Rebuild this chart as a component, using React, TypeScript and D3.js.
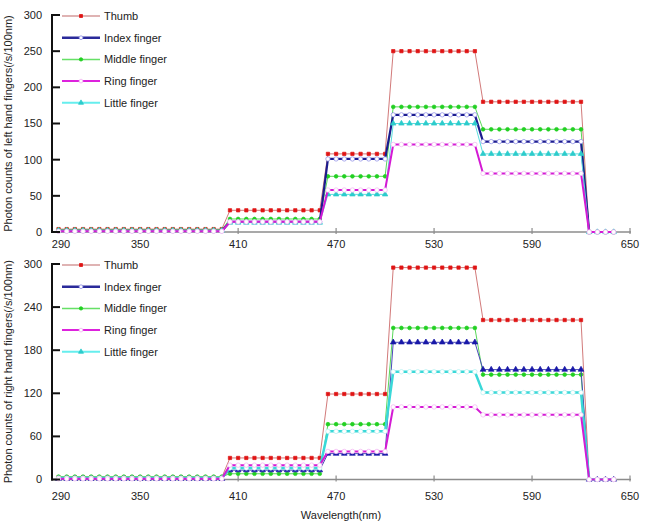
import React from 'react';
import * as d3 from 'd3';

const wavelengths = [
  300, 305, 310, 315, 320, 325, 330, 335, 340, 345, 350, 355, 360, 365, 370, 375, 380, 385, 390, 395, 400,
  405, 410, 415, 420, 425, 430, 435, 440, 445, 450, 455, 460,
  465, 470, 475, 480, 485, 490, 495, 500,
  505, 510, 515, 520, 525, 530, 535, 540, 545, 550, 555,
  560, 565, 570, 575, 580, 585, 590, 595, 600, 605, 610, 615, 620,
  625, 630, 635, 640,
];

const seriesNames = ['Thumb', 'Index finger', 'Middle finger', 'Ring finger', 'Little finger'];

// Left hand
const leftThumb = [
  4, 4, 4, 4, 4, 4, 4, 4, 4, 4, 4, 4, 4, 4, 4, 4, 4, 4, 4, 4, 4,
  30, 30, 30, 30, 30, 30, 30, 30, 30, 30, 30, 30,
  108, 108, 108, 108, 108, 108, 108, 108,
  250, 250, 250, 250, 250, 250, 250, 250, 250, 250, 250,
  180, 180, 180, 180, 180, 180, 180, 180, 180, 180, 180, 180, 180,
  0, 0, 0, 0,
];
const leftIndex = [
  1.5, 1.5, 1.5, 1.5, 1.5, 1.5, 1.5, 1.5, 1.5, 1.5, 1.5, 1.5, 1.5, 1.5, 1.5, 1.5, 1.5, 1.5, 1.5, 1.5, 1.5,
  14, 14, 14, 14, 14, 14, 14, 14, 14, 14, 14, 14,
  101, 101, 101, 101, 101, 101, 101, 101,
  162, 162, 162, 162, 162, 162, 162, 162, 162, 162, 162,
  125, 125, 125, 125, 125, 125, 125, 125, 125, 125, 125, 125, 125,
  0, 0, 0, 0,
];
const leftMiddle = [
  3, 3, 3, 3, 3, 3, 3, 3, 3, 3, 3, 3, 3, 3, 3, 3, 3, 3, 3, 3, 3,
  18, 18, 18, 18, 18, 18, 18, 18, 18, 18, 18, 18,
  77, 77, 77, 77, 77, 77, 77, 77,
  173, 173, 173, 173, 173, 173, 173, 173, 173, 173, 173,
  142, 142, 142, 142, 142, 142, 142, 142, 142, 142, 142, 142, 142,
  0, 0, 0, 0,
];
const leftRing = [
  1, 1, 1, 1, 1, 1, 1, 1, 1, 1, 1, 1, 1, 1, 1, 1, 1, 1, 1, 1, 1,
  14, 14, 14, 14, 14, 14, 14, 14, 14, 14, 14, 14,
  58, 58, 58, 58, 58, 58, 58, 58,
  121, 121, 121, 121, 121, 121, 121, 121, 121, 121, 121,
  81, 81, 81, 81, 81, 81, 81, 81, 81, 81, 81, 81, 81,
  0, 0, 0, 0,
];
const leftLittle = [
  2, 2, 2, 2, 2, 2, 2, 2, 2, 2, 2, 2, 2, 2, 2, 2, 2, 2, 2, 2, 2,
  13, 13, 13, 13, 13, 13, 13, 13, 13, 13, 13, 13,
  52, 52, 52, 52, 52, 52, 52, 52,
  150, 150, 150, 150, 150, 150, 150, 150, 150, 150, 150,
  108, 108, 108, 108, 108, 108, 108, 108, 108, 108, 108, 108, 108,
  0, 0, 0, 0,
];

// Right hand
const rightThumb = [
  3, 3, 3, 3, 3, 3, 3, 3, 3, 3, 3, 3, 3, 3, 3, 3, 3, 3, 3, 3, 3,
  30, 30, 30, 30, 30, 30, 30, 30, 30, 30, 30, 30,
  119, 119, 119, 119, 119, 119, 119, 119,
  295, 295, 295, 295, 295, 295, 295, 295, 295, 295, 295,
  222, 222, 222, 222, 222, 222, 222, 222, 222, 222, 222, 222, 222,
  0, 0, 0, 0,
];
const rightIndex = [
  1, 1, 1, 1, 1, 1, 1, 1, 1, 1, 1, 1, 1, 1, 1, 1, 1, 1, 1, 1, 1,
  13, 13, 13, 13, 13, 13, 13, 13, 13, 13, 13, 13,
  36, 36, 36, 36, 36, 36, 36, 36,
  191, 191, 191, 191, 191, 191, 191, 191, 191, 191, 191,
  153, 153, 153, 153, 153, 153, 153, 153, 153, 153, 153, 153, 153,
  0, 0, 0, 0,
];
const rightMiddle = [
  4, 4, 4, 4, 4, 4, 4, 4, 4, 4, 4, 4, 4, 4, 4, 4, 4, 4, 4, 4, 4,
  8, 8, 8, 8, 8, 8, 8, 8, 8, 8, 8, 8,
  77, 77, 77, 77, 77, 77, 77, 77,
  211, 211, 211, 211, 211, 211, 211, 211, 211, 211, 211,
  146, 146, 146, 146, 146, 146, 146, 146, 146, 146, 146, 146, 146,
  0, 0, 0, 0,
];
const rightRing = [
  1, 1, 1, 1, 1, 1, 1, 1, 1, 1, 1, 1, 1, 1, 1, 1, 1, 1, 1, 1, 1,
  20, 20, 20, 20, 20, 20, 20, 20, 20, 20, 20, 20,
  39, 39, 39, 39, 39, 39, 39, 39,
  101, 101, 101, 101, 101, 101, 101, 101, 101, 101, 101,
  90, 90, 90, 90, 90, 90, 90, 90, 90, 90, 90, 90, 90,
  0, 0, 0, 0,
];
const rightLittle = [
  2, 2, 2, 2, 2, 2, 2, 2, 2, 2, 2, 2, 2, 2, 2, 2, 2, 2, 2, 2, 2,
  16, 16, 16, 16, 16, 16, 16, 16, 16, 16, 16, 16,
  67, 67, 67, 67, 67, 67, 67, 67,
  150, 150, 150, 150, 150, 150, 150, 150, 150, 150, 150,
  121, 121, 121, 121, 121, 121, 121, 121, 121, 121, 121, 121, 121,
  0, 0, 0, 0,
];

const xTicks = [290, 350, 410, 470, 530, 590, 650];
const leftYTicks = [0, 50, 100, 150, 200, 250, 300];
const rightYTicks = [0, 60, 120, 180, 240, 300];

const FONT = "'Liberation Sans', Arial, sans-serif";

type Style = {
  line: string;
  width: number;
  marker: 'square' | 'circle' | 'triangle';
  fill: string;
  stroke: string;
  size: number;
};

const leftStyles: Style[] = [
  { line: '#d27a7a', width: 1, marker: 'square', fill: '#e01414', stroke: '#e01414', size: 11 },
  { line: '#1c1c8e', width: 2.2, marker: 'circle', fill: '#ffffff', stroke: '#8a8ae6', size: 15 },
  { line: '#5ad85a', width: 1, marker: 'circle', fill: '#22d022', stroke: '#22d022', size: 11 },
  { line: '#d41ad4', width: 2, marker: 'circle', fill: '#ffffff', stroke: '#f2b0f2', size: 16 },
  { line: '#5adede', width: 1, marker: 'triangle', fill: '#2ccccc', stroke: '#2ccccc', size: 13 },
];
const rightStyles: Style[] = [
  { line: '#d27a7a', width: 1, marker: 'square', fill: '#e01414', stroke: '#e01414', size: 11 },
  { line: '#4a4ab8', width: 1, marker: 'triangle', fill: '#1818a8', stroke: '#1818a8', size: 14 },
  { line: '#5ad85a', width: 1, marker: 'circle', fill: '#22d022', stroke: '#22d022', size: 11 },
  { line: '#d41ad4', width: 2, marker: 'circle', fill: '#ffffff', stroke: '#f2b0f2', size: 16 },
  { line: '#3ad8d8', width: 2.5, marker: 'circle', fill: '#ffffff', stroke: '#b0f0f0', size: 16 },
];
const legendStyles: Style[] = [
  { line: '#d49a9a', width: 1.5, marker: 'square', fill: '#e01414', stroke: '#e01414', size: 9 },
  { line: '#2a2a9a', width: 2.5, marker: 'circle', fill: '#ffffff', stroke: '#8a8ae6', size: 11 },
  { line: '#66e066', width: 1.5, marker: 'circle', fill: '#22d022', stroke: '#22d022', size: 9 },
  { line: '#dd22dd', width: 2, marker: 'circle', fill: '#ffffff', stroke: '#f2b0f2', size: 11 },
  { line: '#66eeee', width: 2, marker: 'triangle', fill: '#2ccccc', stroke: '#2ccccc', size: 11 },
];

const symbolType = (m: Style['marker']) =>
  m === 'square' ? d3.symbolSquare : m === 'circle' ? d3.symbolCircle : d3.symbolTriangle;

const X0 = 52;
const X1 = 630;
const xScale = d3.scaleLinear().domain([296, 650]).range([X0, X1]);

type PanelProps = {
  yTopPx: number;
  yBotPx: number;
  series: number[][];
  styles: Style[];
  yTicks: number[];
  title: string;
  xLabelGap: number;
};

function Panel({ yTopPx, yBotPx, series, styles, yTicks, title, xLabelGap }: PanelProps) {
  const y = d3.scaleLinear().domain([0, 300]).range([yBotPx, yTopPx]);
  const order = [0, 2, 1, 4, 3];
  return (
    <g>
      <line x1={X0} x2={X1 + 1} y1={yBotPx} y2={yBotPx} stroke="#8c8c8c" strokeWidth={1.5} />
      {xTicks.map((t) => {
        const px = xScale(t);
        const inside = px >= X0;
        return (
          <g key={t}>
            {inside && px > X0 + 20 && (
              <line x1={px} x2={px} y1={yBotPx - 4} y2={yBotPx + 2} stroke="#8c8c8c" strokeWidth={1.2} />
            )}
            <text
              x={inside ? px : X0 + 9}
              y={yBotPx + xLabelGap}
              textAnchor="middle"
              fontFamily={FONT}
              fontSize={11}
              fill="#222"
            >
              {t}
            </text>
          </g>
        );
      })}
      {order.map((si) => {
        const vals = series[si];
        const st = styles[si];
        const pts: [number, number][] = wavelengths.map((w, i) => [xScale(w), y(vals[i])]);
        const path = d3.line()(pts) || '';
        const sym = d3.symbol().type(symbolType(st.marker)).size(st.size)() || '';
        return (
          <g key={si}>
            <path d={path} fill="none" stroke={st.line} strokeWidth={st.width} strokeLinejoin="round" />
            {pts.map(([px, py], i) => (
              <path
                key={i}
                d={sym}
                transform={`translate(${px},${py})`}
                fill={st.fill}
                stroke={st.stroke}
                strokeWidth={0.7}
              />
            ))}
          </g>
        );
      })}
      <line x1={X0} x2={X0} y1={yTopPx} y2={yBotPx + 1} stroke="#111" strokeWidth={2} />
      {yTicks.map((t) => (
        <g key={t}>
          <line x1={X0 - 1} x2={X0 + 8} y1={y(t)} y2={y(t)} stroke="#111" strokeWidth={2} />
          <text
            x={42}
            y={y(t)}
            dy="0.36em"
            textAnchor="end"
            fontFamily={FONT}
            fontSize={11}
            fill="#222"
          >
            {t}
          </text>
        </g>
      ))}
      {seriesNames.map((name, i) => {
        const ly = yTopPx + 1 + i * 21.7;
        const st = legendStyles[i];
        const sym = d3.symbol().type(symbolType(st.marker)).size(st.size)() || '';
        return (
          <g key={name}>
            <line x1={62} x2={100} y1={ly} y2={ly} stroke={st.line} strokeWidth={st.width} />
            <path d={sym} transform={`translate(81,${ly})`} fill={st.fill} stroke={st.stroke} strokeWidth={0.8} />
            <text x={104} y={ly} dy="0.36em" fontFamily={FONT} fontSize={11} fill="#222">
              {name}
            </text>
          </g>
        );
      })}
      <text
        transform={`translate(12,${(yTopPx + yBotPx) / 2}) rotate(-90)`}
        textAnchor="middle"
        fontFamily={FONT}
        fontSize={11}
        fill="#222"
      >
        {title}
      </text>
    </g>
  );
}

export default function App() {
  return (
    <svg
      width={646}
      height={529}
      viewBox="0 0 646 529"
      style={{ position: 'absolute', left: 0, top: 0, background: '#fff' }}
    >
      <rect x={0} y={0} width={646} height={529} fill="#fff" />
      <Panel
        yTopPx={15}
        yBotPx={232}
        series={[leftThumb, leftIndex, leftMiddle, leftRing, leftLittle]}
        styles={leftStyles}
        yTicks={leftYTicks}
        title="Photon counts of left hand fingers(/s/100nm)"
        xLabelGap={16}
      />
      <Panel
        yTopPx={264}
        yBotPx={479.5}
        series={[rightThumb, rightIndex, rightMiddle, rightRing, rightLittle]}
        styles={rightStyles}
        yTicks={rightYTicks}
        title="Photon counts of right hand fingers(/s/100nm)"
        xLabelGap={20}
      />
      <text x={341} y={519} textAnchor="middle" fontFamily={FONT} fontSize={11} fill="#222">
        Wavelength(nm)
      </text>
    </svg>
  );
}
